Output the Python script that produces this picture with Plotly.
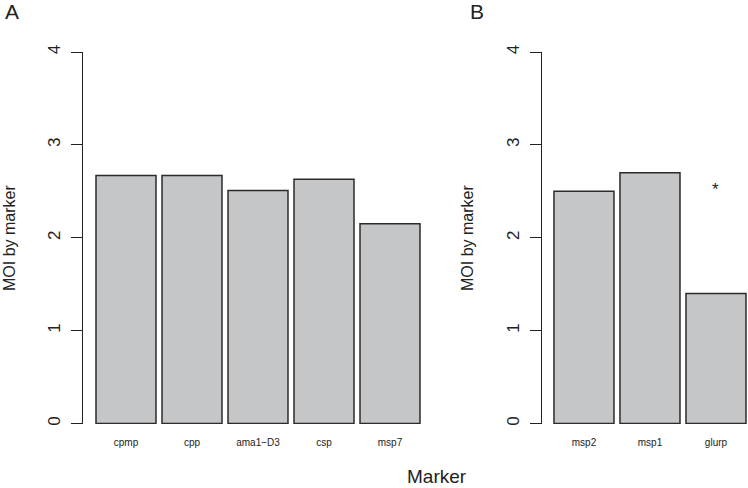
import plotly.graph_objects as go

# MOI by marker, panel A and panel B
panel_a_markers = ["cpmp", "cpp", "ama1\u2212D3", "csp", "msp7"]
panel_a_moi = [2.67, 2.67, 2.51, 2.63, 2.15]

panel_b_markers = ["msp2", "msp1", "glurp"]
panel_b_moi = [2.50, 2.70, 1.40]

y_ticks = [0, 1, 2, 3, 4]
star_marker = "glurp"
star_y = 2.52

W, H = 748, 488
FONT = "Liberation Sans, Arial, Helvetica, sans-serif"
BAR_FILL = "#c5c6c8"
BAR_LINE = "#2b2b2b"


def px_x(p):
    return p / W


def px_y(p):
    return (H - p) / H


fig = go.Figure()

fig.add_trace(go.Bar(
    x=list(range(len(panel_a_markers))), y=panel_a_moi,
    marker=dict(color=BAR_FILL, line=dict(color=BAR_LINE, width=1.5)),
    xaxis="x", yaxis="y", showlegend=False, hoverinfo="y",
))
fig.add_trace(go.Bar(
    x=list(range(len(panel_b_markers))), y=panel_b_moi,
    marker=dict(color=BAR_FILL, line=dict(color=BAR_LINE, width=1.5)),
    xaxis="x2", yaxis="y2", showlegend=False, hoverinfo="y",
))

y_dom = [px_y(424), px_y(52)]

xaxis_common = dict(
    showline=False, showgrid=False, zeroline=False, ticks="",
    ticklabelstandoff=11, automargin=False,
    tickfont=dict(size=10, color="#222", family=FONT),
)
yaxis_common = dict(
    range=[-0.005, 4.0], domain=y_dom, tickvals=y_ticks,
    showline=True, linecolor="#222", linewidth=1.2,
    ticks="outside", ticklen=11, tickwidth=1.2, tickcolor="#222",
    ticklabelstandoff=4, automargin=False,
    tickangle=-90, tickfont=dict(size=17, color="#222", family=FONT),
    showgrid=False, zeroline=False,
)

fig.update_layout(
    width=W, height=H,
    margin=dict(l=0, r=0, t=0, b=0, autoexpand=False),
    paper_bgcolor="white", plot_bgcolor="white",
    bargap=6 / 66,
    font=dict(family=FONT, color="#222"),
    xaxis=dict(
        domain=[px_x(83), px_x(433)], range=[-0.6515, 4.6515],
        tickvals=list(range(len(panel_a_markers))), ticktext=panel_a_markers,
        anchor="y", **xaxis_common,
    ),
    xaxis2=dict(
        domain=[px_x(542), 1.0], range=[-0.636, 2.485],
        tickvals=list(range(len(panel_b_markers))), ticktext=panel_b_markers,
        anchor="y2", **xaxis_common,
    ),
    yaxis=dict(anchor="x", **yaxis_common),
    yaxis2=dict(anchor="x2", **yaxis_common),
)

annotations = [
    dict(text="A", x=px_x(12), y=px_y(11), font=dict(size=21)),
    dict(text="B", x=px_x(477), y=px_y(11), font=dict(size=21)),
    dict(text="MOI by marker", x=px_x(9), y=px_y(238), textangle=-90, font=dict(size=16)),
    dict(text="MOI by marker", x=px_x(467), y=px_y(238), textangle=-90, font=dict(size=16)),
    dict(text="Marker", x=px_x(437), y=px_y(476), font=dict(size=19)),
]
for a in annotations:
    a.update(xref="paper", yref="paper", showarrow=False, xanchor="center", yanchor="middle")
    a["font"].update(family=FONT, color="#222")

annotations.append(dict(
    text="*", x=panel_b_markers.index(star_marker), y=star_y, xref="x2", yref="y2",
    showarrow=False, font=dict(size=17, family=FONT, color="#222"),
))
fig.update_layout(annotations=annotations)

fig.write_html(
    "out.html",
    config={"displayModeBar": False},
    post_script="document.body.style.margin='0';document.body.style.overflow='hidden';",
)
